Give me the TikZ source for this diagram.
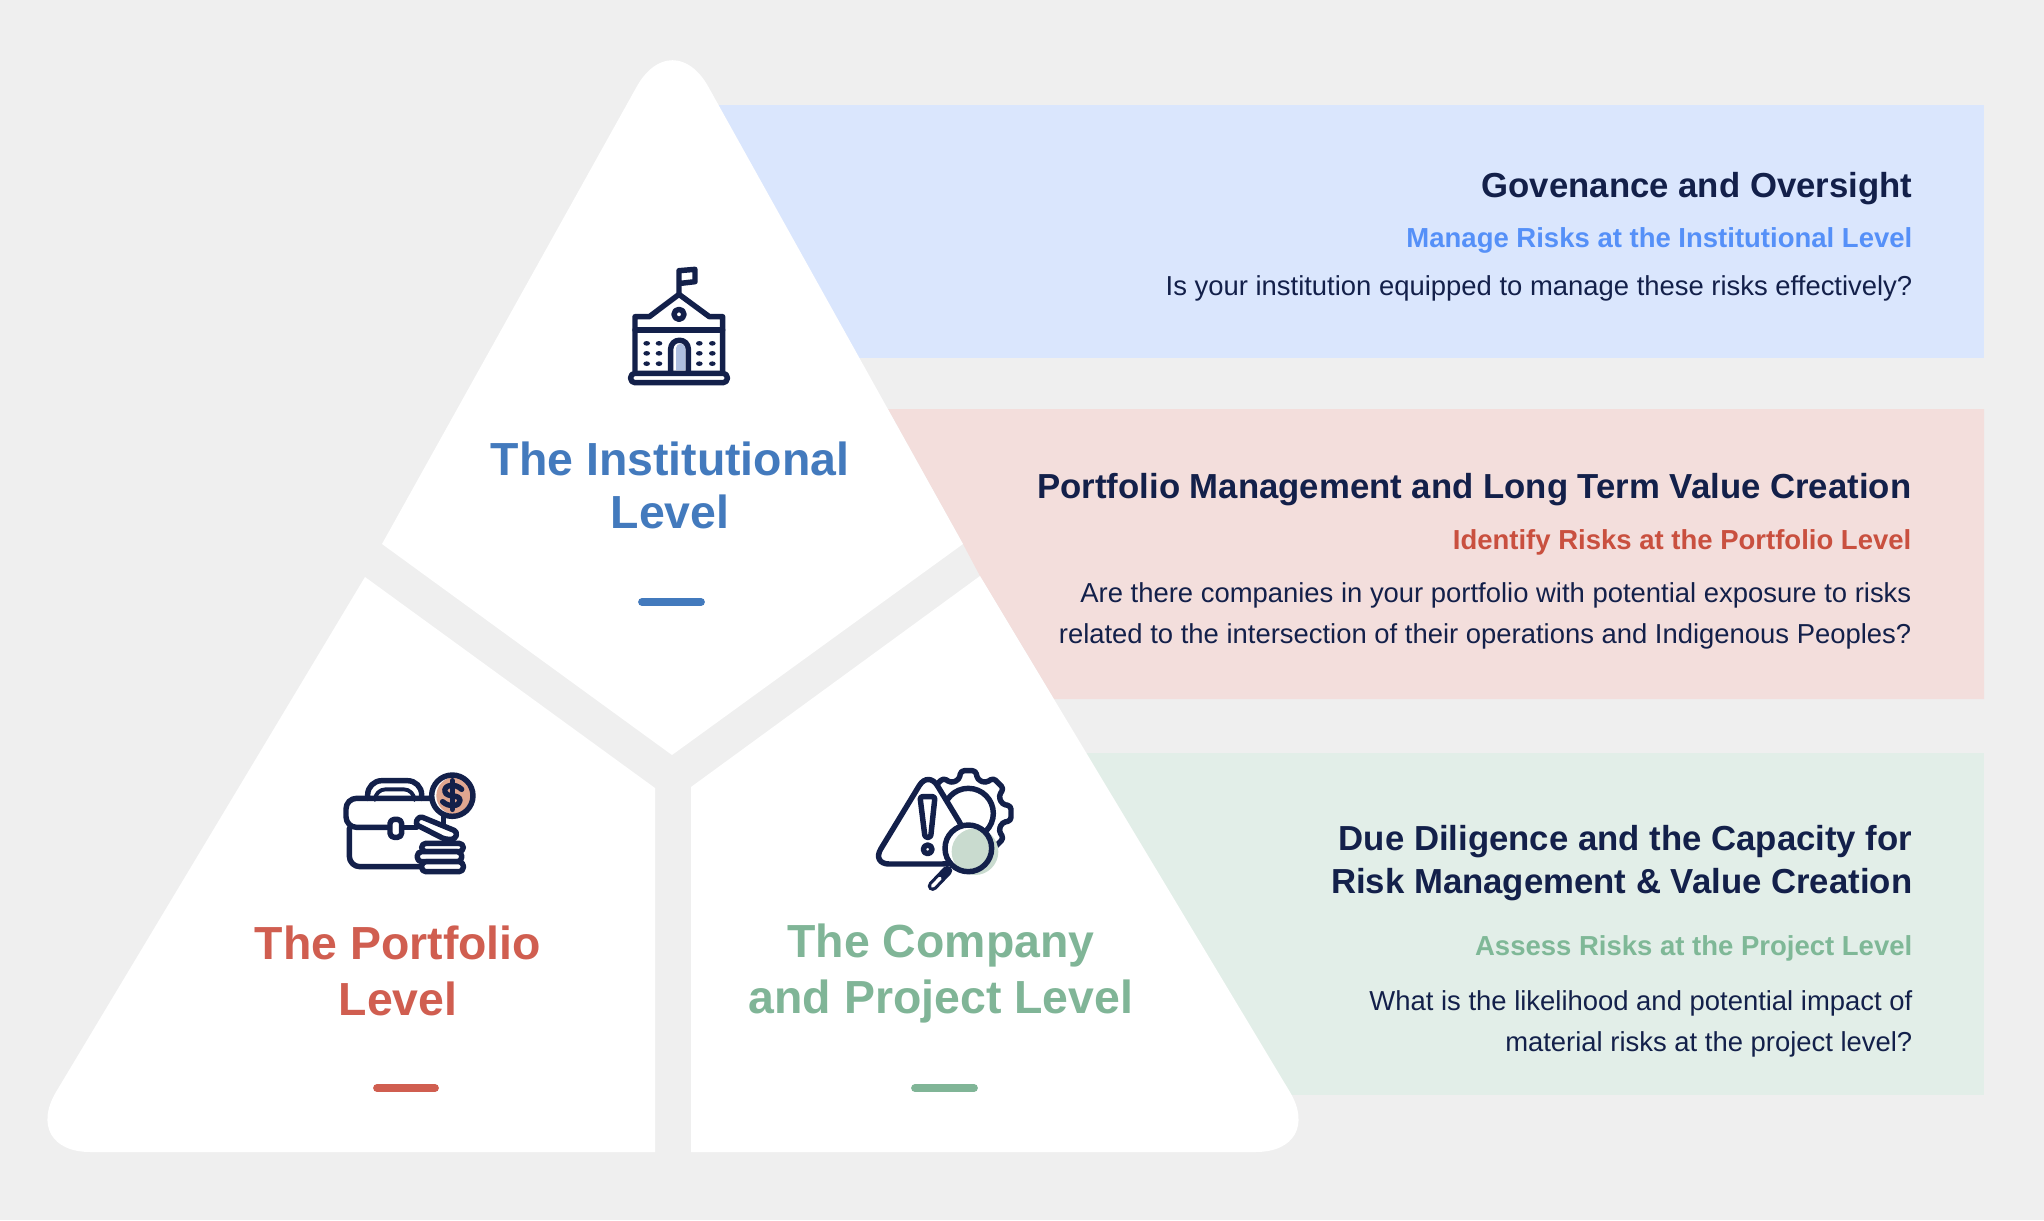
\documentclass[tikz,border=0pt]{standalone}
\usepackage{fontspec}
\setmainfont{Liberation Sans}
\definecolor{bgGray}{HTML}{EFEFEF}
\definecolor{mNavy}{HTML}{13204A}
\definecolor{bandBlue}{HTML}{DAE6FD}
\definecolor{bandRed}{HTML}{F3DEDC}
\definecolor{bandGreen}{HTML}{E2EEE8}
\definecolor{levelBlue}{HTML}{437ABD}
\definecolor{levelRed}{HTML}{D05E50}
\definecolor{levelGreen}{HTML}{80B597}
\definecolor{subBlue}{HTML}{5590F8}
\definecolor{subRed}{HTML}{C9503F}
\definecolor{subGreen}{HTML}{7FB897}
\definecolor{doorBlue}{HTML}{AEBFE0}
\definecolor{coinRed}{HTML}{E0A690}
\definecolor{lensGreen}{HTML}{C9DBCF}
\tikzset{
  headtext/.style={anchor=base east, align=right, inner sep=0pt, text=mNavy,
    font=\fontsize{9.88}{12.2}\selectfont\bfseries},
  subtext/.style={anchor=base east, inner sep=0pt, font=\fontsize{7.82}{10}\selectfont\bfseries},
  bodytext/.style={anchor=base east, align=right, inner sep=0pt, text=mNavy,
    font=\fontsize{7.8}{11.4}\selectfont},
  leveltext/.style={anchor=base, align=center, inner sep=0pt,
    font=\fontsize{13.2}{16}\selectfont\bfseries},
  levelbar/.style={line width=2.2pt, line cap=round},
  iconline/.style={draw=mNavy, line width=1.55pt, line join=round, line cap=round}
}
\begin{document}
\begin{tikzpicture}[x=0.01cm, y=-0.01cm]
  \fill[bgGray] (0,0) rectangle (2044,1220);
  % bands
  \fill[bandBlue] (700,105) rectangle (1984,358);
  \fill[bandRed] (888,409) -- (1984,409) -- (1984,699) -- (1054,699) -- (980,576) -- (963,544) -- cycle;
  \fill[bandGreen] (1000,753) rectangle (1984,1095);
  % pyramid
  \fill[white] (382,544) [rounded corners=21pt] -- (672.5,22.4) [sharp corners] -- (963,544) -- (672,755) -- cycle;
  \fill[white] (365,577) -- (655,788) -- (655,1152) [rounded corners=20pt] -- (20,1152) [sharp corners] -- cycle;
  \fill[white] (980,576) -- (691,787) -- (691,1152) [rounded corners=20pt] -- (1326,1152) [sharp corners] -- cycle;
  % level titles
  \node[leveltext, text=levelBlue] (institutional) at (670,528) {The Institutional\\[-1pt]Level};
  \node[leveltext, text=levelRed] (portfolio) at (398,1015) {The Portfolio\\[-.3pt]Level};
  \node[leveltext, text=levelGreen] (company) at (941,1013) {The Company\\[-.3pt]and Project Level};
  \draw[levelbar, levelBlue] (642,602) -- (701,602);
  \draw[levelbar, levelRed] (377,1088) -- (435,1088);
  \draw[levelbar, levelGreen] (915,1088) -- (974,1088);
  % band texts
  \node[headtext] (govhead) at (1913,197) {Govenance and Oversight};
  \node[subtext, text=subBlue] (govsub) at (1913,247) {Manage Risks at the Institutional Level};
  \node[bodytext] (govbody) at (1913,295) {Is your institution equipped to manage these risks effectively?};
  \node[headtext] (porthead) at (1912,498) {Portfolio Management and Long Term Value Creation};
  \node[subtext, text=subRed] (portsub) at (1912,549) {Identify Risks at the Portfolio Level};
  \node[bodytext] (portbody) at (1912,643) {Are there companies in your portfolio with potential exposure to risks\\related to the intersection of their operations and Indigenous Peoples?};
  \node[headtext] (duehead) at (1913,893) {Due Diligence and the Capacity for\\Risk Management \& Value Creation};
  \node[subtext, text=subGreen] (duesub) at (1913,955) {Assess Risks at the Project Level};
  \node[bodytext] (duebody) at (1913,1051) {What is the likelihood and potential impact of\\material risks at the project level?};
  % school icon
  \begin{scope}[shift={(590,250)}, scale=1/3]
    \fill[doorBlue] (258,360) -- (258,295) arc (180:360:14) -- (286,360) -- cycle;
    \draw[iconline, rounded corners=1.2pt] (122,370) rectangle (412,398);
    \draw[iconline] (135,362) -- (135,200) -- (178,200) -- (267,133) -- (358,200) -- (398,200) -- (398,362);
    \draw[iconline] (135,240) -- (398,240);
    \draw[iconline] (267,133) -- (267,62) -- (315,58) -- (315,95) -- (272,100);
    \draw[iconline] (267,193) circle (15);
    \draw[iconline] (242,362) -- (242,297) arc (180:360:26.5) -- (295,362);
    \foreach \x in {170,207,328,367}
      \foreach \y in {280,310,341}
        \fill[mNavy] (\x,\y) ellipse (10 and 7);
  \end{scope}
  % briefcase icon
  \begin{scope}[shift={(320,750)}, scale=1/3]
    \fill[coinRed] (405,137) circle (56);
    \draw[iconline, rounded corners=3pt] (335,145) -- (78,145) -- (78,232) -- (205,232);
    \draw[iconline, rounded corners=3pt] (88,235) -- (88,350) -- (300,350);
    \draw[iconline] (250,232) -- (290,232);
    \draw[iconline, rounded corners=1.2pt] (210,208) rectangle (245,262);
    \draw[iconline, rounded corners=4pt] (143,145) -- (143,92) -- (305,92) -- (305,145);
    \draw[iconline, line width=1.1pt, rounded corners=3pt] (165,140) -- (165,118) -- (283,118) -- (283,140);
    \draw[iconline] (397,137) circle (62);
    \draw[iconline] (397,92) -- (397,178);
    \draw[iconline] (425,118) .. controls (405,98) and (370,105) .. (375,125) .. controls (380,145) and (420,130) .. (420,152) .. controls (420,170) and (385,172) .. (368,155);
    \draw[iconline] (370,200) -- (370,235);
    \draw[iconline, fill=white, rounded corners=1pt] (298,198) -- (412,245) -- (405,268) -- (375,268) -- (285,222) -- cycle;
    \draw[iconline, fill=white, rounded corners=1.2pt] (305,280) rectangle (430,305);
    \draw[iconline, fill=white, rounded corners=1.2pt] (292,305) rectangle (425,335);
    \draw[iconline, fill=white, rounded corners=1.2pt] (305,335) rectangle (430,365);
  \end{scope}
  % warning icon
  \begin{scope}[shift={(860,750)}, scale=1/3]
    \begin{scope}[shift={(325,190)}]
      \draw[iconline, rounded corners=1pt] (-150:105)
        \foreach \a in {-135,-90,-45,0,45} {
          -- (\a-15:105) -- (\a-10:130) -- (\a+10:130) -- (\a+15:105)
        };
    \end{scope}
    \draw[iconline, fill=white] (325,190) circle (75);
    \draw[iconline, fill=white, rounded corners=5pt] (205,62) -- (325,260) -- (300,342) -- (35,342) -- cycle;
    \draw[iconline, rounded corners=.7pt] (180,140) -- (225,140) -- (212,262) -- (195,262) -- cycle;
    \draw[iconline] (203,298) circle (13);
    \fill[white] (325,295) circle (70);
    \fill[lensGreen] (345,305) circle (70);
    \draw[iconline] (325,295) circle (70);
    \draw[mNavy, line width=2.8pt, line cap=round] (218,408) -- (262,362);
    \draw[white, line width=1pt, line cap=round] (218,408) -- (240,385);
  \end{scope}
\end{tikzpicture}
\end{document}
